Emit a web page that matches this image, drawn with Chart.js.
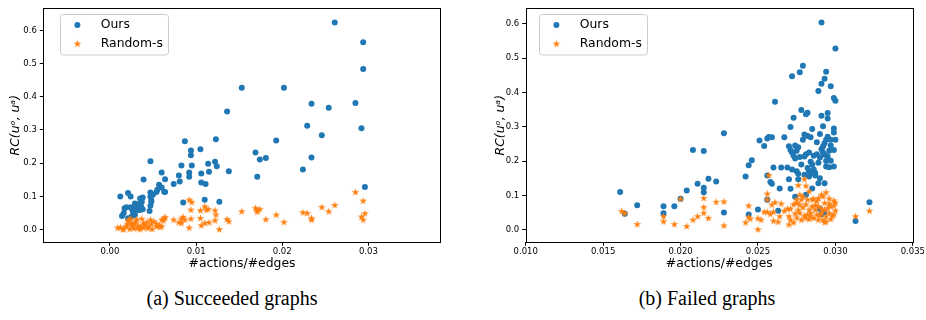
<!DOCTYPE html>
<html>
<head>
<meta charset="utf-8">
<script src="https://cdn.jsdelivr.net/npm/chart.js@4/dist/chart.umd.min.js"></script>
<style>
  body { margin: 0; background: #fff; width: 926px; height: 320px; position: relative; overflow: hidden; }
  .panel { position: absolute; top: 0; width: 463px; height: 280px; }
  .caption { position: absolute; top: 286px; width: 300px; text-align: center; font-family: "Liberation Serif", serif; font-size: 20px; line-height: 24px; color: #000; }
</style>
</head>
<body>
<div class="panel" style="left:0"><canvas id="succChart" width="463" height="280"></canvas></div>
<div class="panel" style="left:463px"><canvas id="failChart" width="463" height="280"></canvas></div>
<div class="caption" style="left:82px">(a) Succeeded graphs</div>
<div class="caption" style="left:557px">(b) Failed graphs</div>
<script>
// Series names and axis texts
const seriesNames = ['Ours', 'Random-s'];
const xTitle = '#actions/#edges';
const yTitle = 'RC(uᵒ, uᵃ)';

// Tick values
const yTicks = [0, 0.1, 0.2, 0.3, 0.4, 0.5, 0.6];
const succXTicks = [0, 0.01, 0.02, 0.03];
const failXTicks = [0.010, 0.015, 0.020, 0.025, 0.030, 0.035];

// (a) Succeeded graphs: [#actions/#edges, RC]
const succOurs = [
  [0.0261, 0.624], [0.0294, 0.564], [0.0294, 0.484], [0.0153, 0.427], [0.0202, 0.427],
  [0.0136, 0.356], [0.0234, 0.379], [0.0254, 0.367], [0.0285, 0.381], [0.0229, 0.313],
  [0.0246, 0.284], [0.0292, 0.305], [0.0193, 0.268], [0.0087, 0.266], [0.0123, 0.272],
  [0.0105, 0.242], [0.0094, 0.238], [0.0094, 0.224], [0.0169, 0.232], [0.0174, 0.211],
  [0.0181, 0.216], [0.0234, 0.217], [0.0224, 0.181], [0.0047, 0.206], [0.0083, 0.193],
  [0.0095, 0.193], [0.0114, 0.198], [0.0122, 0.204], [0.0124, 0.191], [0.0115, 0.174],
  [0.0138, 0.176], [0.0171, 0.159], [0.0092, 0.172], [0.0092, 0.159], [0.0080, 0.163],
  [0.0081, 0.145], [0.0106, 0.169], [0.0106, 0.142], [0.0111, 0.137], [0.0074, 0.137],
  [0.0060, 0.172], [0.0064, 0.152], [0.0039, 0.151], [0.0057, 0.135], [0.0060, 0.127],
  [0.0064, 0.113], [0.0054, 0.113], [0.0296, 0.128], [0.0110, 0.090], [0.0127, 0.084],
  [0.0085, 0.082], [0.0012, 0.100], [0.0021, 0.110], [0.0024, 0.100], [0.0017, 0.064],
  [0.0014, 0.041], [0.0019, 0.067], [0.0024, 0.067], [0.0027, 0.049], [0.0026, 0.059],
  [0.0029, 0.079], [0.0032, 0.059], [0.0034, 0.077], [0.0035, 0.094], [0.0038, 0.097],
  [0.0037, 0.084], [0.0031, 0.069], [0.0033, 0.064], [0.0029, 0.044], [0.0025, 0.039],
  [0.0021, 0.034], [0.0035, 0.059], [0.0047, 0.112], [0.0047, 0.100], [0.0048, 0.089],
  [0.0046, 0.056], [0.0047, 0.072], [0.0038, 0.061], [0.0016, 0.050], [0.0030, 0.072],
  [0.0036, 0.070], [0.0055, 0.120], [0.0050, 0.105], [0.0028, 0.055], [0.0036, 0.087],
  [0.0048, 0.084], [0.0063, 0.114],
];
const succRandom = [
  [0.0285, 0.112], [0.0294, 0.086], [0.0261, 0.073], [0.0246, 0.067], [0.0254, 0.054],
  [0.0296, 0.048], [0.0292, 0.038], [0.0294, 0.029], [0.0224, 0.051], [0.0229, 0.049],
  [0.0234, 0.034], [0.0234, 0.029], [0.0193, 0.044], [0.0202, 0.022], [0.0181, 0.030],
  [0.0169, 0.064], [0.0171, 0.057], [0.0174, 0.061], [0.0171, 0.053], [0.0153, 0.054],
  [0.0136, 0.031], [0.0138, 0.024], [0.0122, 0.057], [0.0123, 0.044], [0.0122, 0.027],
  [0.0127, 0.000], [0.0110, 0.069], [0.0112, 0.059], [0.0114, 0.061], [0.0105, 0.057],
  [0.0105, 0.034], [0.0106, 0.012], [0.0110, 0.019], [0.0115, 0.021], [0.0092, 0.089],
  [0.0095, 0.082], [0.0094, 0.059], [0.0094, 0.032], [0.0092, 0.005], [0.0085, 0.037],
  [0.0083, 0.032], [0.0087, 0.029], [0.0080, 0.021], [0.0083, 0.019], [0.0074, 0.029],
  [0.0064, 0.037], [0.0060, 0.029], [0.0062, 0.027], [0.0060, 0.009], [0.0058, 0.007],
  [0.0054, 0.009], [0.0047, 0.029], [0.0048, 0.017], [0.0049, 0.001], [0.0045, 0.009],
  [0.0054, 0.017], [0.0037, 0.032], [0.0039, 0.019], [0.0036, 0.009], [0.0032, 0.004],
  [0.0027, 0.009], [0.0023, 0.001], [0.0019, 0.009], [0.0016, 0.001], [0.0012, 0.006],
  [0.0021, 0.024], [0.0025, 0.019], [0.0029, 0.017], [0.0033, 0.011], [0.0039, 0.005],
  [0.0035, 0.000], [0.0024, 0.032], [0.0022, 0.029], [0.0015, 0.000], [0.0009, 0.005],
  [0.0030, 0.024], [0.0026, 0.013], [0.0041, 0.012], [0.0043, 0.022], [0.0051, 0.024],
  [0.0057, 0.013], [0.0063, 0.033], [0.0028, 0.003], [0.0020, 0.015], [0.0044, 0.003],
  [0.0031, 0.030],
];

// (b) Failed graphs
const failOurs = [
  [0.0161, 0.110], [0.0164, 0.046], [0.0172, 0.071], [0.0189, 0.068], [0.0189, 0.048],
  [0.0196, 0.068], [0.0200, 0.090], [0.0204, 0.114], [0.0208, 0.232], [0.0211, 0.134],
  [0.0215, 0.229], [0.0215, 0.122], [0.0215, 0.109], [0.0218, 0.148], [0.0223, 0.140],
  [0.0228, 0.281], [0.0228, 0.050], [0.0242, 0.155], [0.0244, 0.188], [0.0246, 0.202],
  [0.0244, 0.044], [0.0250, 0.059], [0.0251, 0.260], [0.0254, 0.244], [0.0256, 0.266],
  [0.0257, 0.270], [0.0259, 0.269], [0.0256, 0.087], [0.0256, 0.158], [0.0258, 0.139],
  [0.0259, 0.134], [0.0260, 0.181], [0.0261, 0.373], [0.0263, 0.055], [0.0264, 0.120],
  [0.0265, 0.181], [0.0267, 0.269], [0.0269, 0.181], [0.0270, 0.243], [0.0271, 0.299],
  [0.0271, 0.119], [0.0272, 0.447], [0.0271, 0.232], [0.0272, 0.225], [0.0273, 0.326],
  [0.0273, 0.215], [0.0274, 0.245], [0.0274, 0.207], [0.0274, 0.096], [0.0275, 0.170],
  [0.0276, 0.163], [0.0277, 0.459], [0.0276, 0.147], [0.0277, 0.212], [0.0278, 0.349],
  [0.0279, 0.262], [0.0279, 0.478], [0.0280, 0.277], [0.0280, 0.213], [0.0281, 0.336],
  [0.0281, 0.102], [0.0281, 0.220], [0.0282, 0.341], [0.0282, 0.273], [0.0282, 0.180],
  [0.0283, 0.225], [0.0283, 0.170], [0.0283, 0.155], [0.0284, 0.269], [0.0284, 0.198],
  [0.0285, 0.293], [0.0285, 0.190], [0.0286, 0.175], [0.0286, 0.215], [0.0287, 0.165],
  [0.0287, 0.158], [0.0288, 0.220], [0.0289, 0.404], [0.0289, 0.135], [0.0290, 0.279],
  [0.0290, 0.210], [0.0291, 0.425], [0.0291, 0.332], [0.0291, 0.234], [0.0291, 0.604],
  [0.0292, 0.301], [0.0292, 0.242], [0.0292, 0.225], [0.0293, 0.440], [0.0293, 0.252],
  [0.0293, 0.135], [0.0293, 0.051], [0.0293, 0.218], [0.0294, 0.262], [0.0294, 0.460],
  [0.0294, 0.184], [0.0294, 0.200], [0.0295, 0.340], [0.0295, 0.324], [0.0295, 0.271],
  [0.0296, 0.230], [0.0296, 0.182], [0.0297, 0.418], [0.0297, 0.201], [0.0297, 0.262],
  [0.0299, 0.384], [0.0299, 0.295], [0.0299, 0.283], [0.0299, 0.232], [0.0299, 0.184],
  [0.0300, 0.376], [0.0300, 0.528], [0.0300, 0.262], [0.0313, 0.025], [0.0322, 0.080],
  [0.0270, 0.147], [0.0272, 0.175], [0.0276, 0.240], [0.0278, 0.190], [0.0285, 0.165],
  [0.0289, 0.195], [0.0290, 0.150], [0.0295, 0.213], [0.0297, 0.245], [0.0288, 0.255],
  [0.0275, 0.230], [0.0285, 0.120], [0.0280, 0.160], [0.0291, 0.045], [0.0290, 0.060],
];
const failRandom = [
  [0.0162, 0.053], [0.0164, 0.047], [0.0172, 0.015], [0.0189, 0.038], [0.0189, 0.023],
  [0.0196, 0.015], [0.0200, 0.089], [0.0204, 0.009], [0.0208, 0.028], [0.0211, 0.038],
  [0.0215, 0.091], [0.0215, 0.065], [0.0215, 0.048], [0.0218, 0.033], [0.0223, 0.080],
  [0.0228, 0.081], [0.0228, 0.011], [0.0242, 0.020], [0.0244, 0.069], [0.0244, 0.036],
  [0.0245, 0.031], [0.0250, 0.032], [0.0252, 0.028], [0.0250, 0.000], [0.0257, 0.158],
  [0.0256, 0.104], [0.0256, 0.087], [0.0259, 0.072], [0.0261, 0.079], [0.0260, 0.051],
  [0.0256, 0.051], [0.0258, 0.045], [0.0254, 0.051], [0.0265, 0.075], [0.0267, 0.054],
  [0.0264, 0.038], [0.0263, 0.022], [0.0260, 0.025], [0.0270, 0.038], [0.0270, 0.014],
  [0.0271, 0.028], [0.0271, 0.060], [0.0273, 0.073], [0.0275, 0.087], [0.0276, 0.129],
  [0.0277, 0.101], [0.0278, 0.087], [0.0279, 0.096], [0.0280, 0.147], [0.0281, 0.127],
  [0.0283, 0.111], [0.0282, 0.087], [0.0281, 0.073], [0.0279, 0.064], [0.0276, 0.057],
  [0.0274, 0.046], [0.0275, 0.034], [0.0273, 0.020], [0.0280, 0.040], [0.0281, 0.033],
  [0.0283, 0.057], [0.0284, 0.048], [0.0285, 0.067], [0.0286, 0.089], [0.0288, 0.082],
  [0.0289, 0.091], [0.0291, 0.101], [0.0292, 0.096], [0.0294, 0.108], [0.0296, 0.090],
  [0.0293, 0.077], [0.0289, 0.067], [0.0287, 0.057], [0.0288, 0.043], [0.0291, 0.048],
  [0.0293, 0.057], [0.0295, 0.062], [0.0297, 0.067], [0.0299, 0.084], [0.0299, 0.069],
  [0.0300, 0.055], [0.0298, 0.040], [0.0296, 0.048], [0.0294, 0.038], [0.0292, 0.028],
  [0.0293, 0.021], [0.0289, 0.028], [0.0286, 0.033], [0.0284, 0.038], [0.0282, 0.043],
  [0.0277, 0.048], [0.0278, 0.028], [0.0294, 0.023], [0.0297, 0.030], [0.0299, 0.043],
  [0.0285, 0.087], [0.0275, 0.077], [0.0277, 0.072], [0.0313, 0.038], [0.0322, 0.054],
  [0.0290, 0.040], [0.0287, 0.070], [0.0291, 0.060], [0.0283, 0.030], [0.0296, 0.075],
  [0.0300, 0.078], [0.0269, 0.060],
];

const blue = '#1f77b4';
const orange = '#ff7f0e';
const dotRadius = 3;
const tickFont = { family: 'DejaVu Sans', size: 8.5 };
const labelFont = { family: 'DejaVu Sans', size: 12.4 };

// filled five point star, like matplotlib's '*' marker
function makeStar(color, r) {
  const size = Math.ceil(r * 2) + 2;
  const c = document.createElement('canvas');
  c.width = size;
  c.height = size;
  const ctx = c.getContext('2d');
  ctx.translate(size / 2, size / 2);
  ctx.beginPath();
  for (let i = 0; i < 10; i++) {
    const rad = i % 2 ? r * 0.382 : r;
    const a = -Math.PI / 2 + (i * Math.PI) / 5;
    ctx.lineTo(rad * Math.cos(a), rad * Math.sin(a));
  }
  ctx.closePath();
  ctx.fillStyle = color;
  ctx.fill();
  return c;
}
const starImg = makeStar(orange, 4.1);

// Box around the plot area and the legend inside it
const framePlugin = {
  id: 'frame',
  afterDatasetsDraw(chart, args, opts) {
    const { ctx, chartArea: a } = chart;
    ctx.save();
    ctx.strokeStyle = '#000';
    ctx.lineWidth = 1;
    ctx.strokeRect(Math.round(a.left) + 0.5, Math.round(a.top) + 0.5,
      Math.round(a.right - a.left), Math.round(a.bottom - a.top));

    const x = opts.legendX;
    const y = opts.legendY;
    ctx.fillStyle = 'rgba(255,255,255,0.8)';
    ctx.strokeStyle = '#cccccc';
    ctx.beginPath();
    ctx.roundRect(x + 0.5, y + 0.5, 108, 40.5, 3);
    ctx.fill();
    ctx.stroke();

    ctx.fillStyle = blue;
    ctx.beginPath();
    ctx.arc(x + 17.4, y + 11, dotRadius, 0, Math.PI * 2);
    ctx.fill();
    ctx.drawImage(starImg, x + 17.4 - starImg.width / 2, y + 30 - starImg.height / 2);

    ctx.fillStyle = '#000';
    ctx.font = '12.4px "DejaVu Sans"';
    ctx.textBaseline = 'middle';
    ctx.fillText(seriesNames[0], x + 40.7, y + 11);
    ctx.fillText(seriesNames[1], x + 40.7, y + 30);
    ctx.restore();
  },
};

const toPoints = (rows) => rows.map(([x, y]) => ({ x, y }));

function buildChart(id, cfg) {
  new Chart(document.getElementById(id), {
    type: 'scatter',
    data: {
      datasets: [
        {
          label: seriesNames[0],
          data: toPoints(cfg.ours),
          pointStyle: 'circle',
          pointRadius: dotRadius,
          backgroundColor: blue,
          borderWidth: 0,
          order: 1,
        },
        {
          label: seriesNames[1],
          data: toPoints(cfg.random),
          pointStyle: starImg,
          pointRadius: 4.1,
          backgroundColor: orange,
          order: 0,
        },
      ],
    },
    options: {
      responsive: false,
      animation: false,
      events: [],
      layout: { padding: { top: 8, right: cfg.padRight, left: 0, bottom: 0 } },
      plugins: {
        legend: { display: false },
        tooltip: { enabled: false },
        frame: { legendX: cfg.legendX, legendY: 14 },
      },
      scales: {
        x: {
          type: 'linear',
          min: cfg.xMin,
          max: cfg.xMax,
          afterBuildTicks: (s) => { s.ticks = cfg.xTicks.map((v) => ({ value: v })); },
          afterFit: (s) => { s.height = 37.7; },
          ticks: {
            callback: (v) => v.toFixed(cfg.xDigits),
            font: tickFont,
            color: '#000',
            padding: 1,
            maxRotation: 0,
            autoSkip: false,
          },
          grid: { drawOnChartArea: false, drawTicks: true, tickLength: 3.5, tickColor: '#000' },
          border: { display: false },
          title: { display: true, text: xTitle, font: labelFont, color: '#000', padding: { top: 0, bottom: 9 } },
        },
        y: {
          min: cfg.yMin,
          max: cfg.yMax,
          afterBuildTicks: (s) => { s.ticks = yTicks.map((v) => ({ value: v })); },
          afterFit: (s) => { s.width = cfg.yWidth; },
          ticks: { callback: (v) => v.toFixed(1), font: tickFont, color: '#000', padding: 3 },
          grid: { drawOnChartArea: false, drawTicks: true, tickLength: 3.5, tickColor: '#000' },
          border: { display: false },
          title: {
            display: true,
            text: yTitle,
            font: { ...labelFont, style: 'italic' },
            color: '#000',
            padding: { top: cfg.yTitlePad, bottom: 0 },
          },
        },
      },
    },
    plugins: [framePlugin],
  });
}

buildChart('succChart', {
  ours: succOurs,
  random: succRandom,
  xTicks: succXTicks,
  xDigits: 2,
  xMin: -0.00774,
  xMax: 0.0384,
  yMin: -0.0382,
  yMax: 0.667,
  yWidth: 43.3,
  yTitlePad: 8.5,
  padRight: 22.3,
  legendX: 60,
});

buildChart('failChart', {
  ours: failOurs,
  random: failRandom,
  xTicks: failXTicks,
  xDigits: 3,
  xMin: 0.010,
  xMax: 0.035,
  yMin: -0.0369,
  yMax: 0.6457,
  yWidth: 62.7,
  yTitlePad: 30,
  padRight: 12.7,
  legendX: 76,
});
</script>
</body>
</html>
